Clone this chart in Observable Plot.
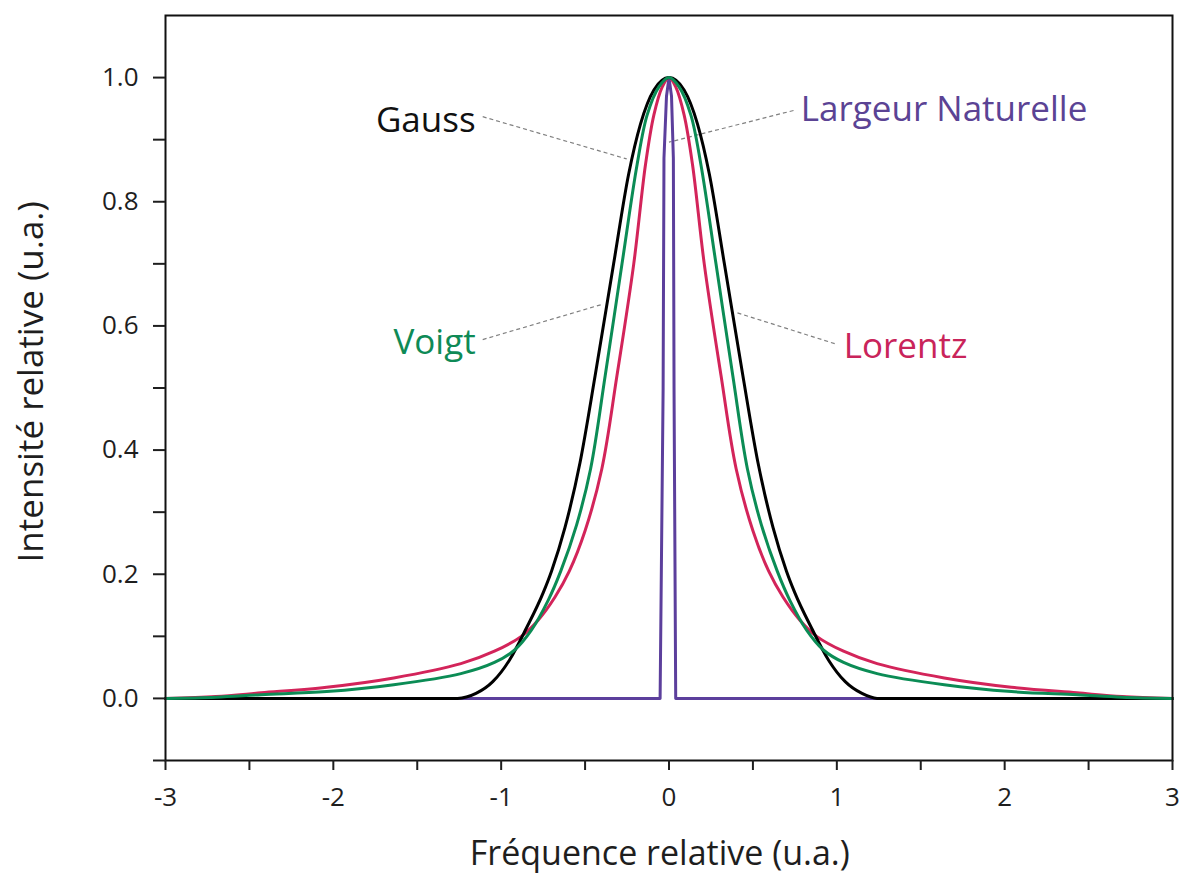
<!DOCTYPE html>
<html>
<head>
<meta charset="utf-8">
<script src="https://cdn.jsdelivr.net/npm/d3@7"></script>
<script src="https://cdn.jsdelivr.net/npm/@observablehq/plot@0.6"></script>
<style>
  html, body { margin: 0; padding: 0; background: #ffffff; }
  #chart { width: 1184px; height: 878px; }
</style>
</head>
<body>
<div id="chart"></div>
<script>
// ---- Data ----
const gaussX = [-3.0, -1.5, -1.26, -1.15, -1.05, -0.95, -0.85, -0.75, -0.70, -0.62, -0.53, -0.44, -0.33, -0.24, -0.17, -0.09, 0, 0.09, 0.17, 0.24, 0.33, 0.44, 0.53, 0.62, 0.70, 0.75, 0.85, 0.95, 1.05, 1.15, 1.24, 1.5, 3.0];
const gaussY = [0, 0, 0, 0.008, 0.027, 0.062, 0.113, 0.17, 0.205, 0.275, 0.38, 0.52, 0.70, 0.845, 0.925, 0.98, 1.0, 0.98, 0.925, 0.845, 0.70, 0.52, 0.38, 0.275, 0.205, 0.17, 0.113, 0.062, 0.027, 0.008, 0, 0, 0];

const voigtX = [-3.0, -2.7, -2.43, -2.04, -1.64, -1.24, -1.04, -0.92, -0.82, -0.72, -0.645, -0.55, -0.467, -0.38, -0.28, -0.19, -0.13, -0.06, 0, 0.06, 0.13, 0.19, 0.28, 0.38, 0.467, 0.55, 0.645, 0.72, 0.82, 0.92, 1.04, 1.24, 1.64, 2.04, 2.43, 2.7, 3.0];
const voigtY = [0, 0.002, 0.006, 0.011, 0.022, 0.04, 0.058, 0.078, 0.11, 0.158, 0.205, 0.28, 0.37, 0.52, 0.70, 0.86, 0.94, 0.985, 1.0, 0.985, 0.94, 0.86, 0.70, 0.52, 0.37, 0.28, 0.205, 0.158, 0.11, 0.078, 0.058, 0.04, 0.022, 0.011, 0.006, 0.002, 0];

const lorentzX = [-3.0, -2.7, -2.43, -2.04, -1.64, -1.24, -1.04, -0.88, -0.78, -0.68, -0.594, -0.50, -0.40, -0.31, -0.21, -0.14, -0.09, -0.04, 0, 0.04, 0.09, 0.14, 0.21, 0.31, 0.40, 0.50, 0.594, 0.68, 0.78, 0.88, 1.04, 1.24, 1.64, 2.04, 2.43, 2.7, 3.0];
const lorentzY = [0, 0.003, 0.009, 0.018, 0.033, 0.056, 0.076, 0.10, 0.126, 0.163, 0.205, 0.27, 0.37, 0.52, 0.70, 0.86, 0.94, 0.985, 1.0, 0.985, 0.94, 0.86, 0.70, 0.52, 0.37, 0.27, 0.205, 0.163, 0.126, 0.10, 0.076, 0.056, 0.033, 0.018, 0.009, 0.003, 0];

const naturalX = [-3.0, -0.053, -0.035, -0.03, -0.015, 0, 0.015, 0.026, 0.03, 0.04, 3.0];
const naturalY = [0, 0, 0.5, 0.87, 0.97, 1.0, 0.97, 0.87, 0.5, 0, 0];

const xTicks = [-3, -2.5, -2, -1.5, -1, -0.5, 0, 0.5, 1, 1.5, 2, 2.5, 3];
const xTickLabels = ["-3", "", "-2", "", "-1", "", "0", "", "1", "", "2", "", "3"];
const yTicks = [-0.1, 0, 0.1, 0.2, 0.3, 0.4, 0.5, 0.6, 0.7, 0.8, 0.9, 1.0];
const yTickLabels = ["", "0.0", "", "0.2", "", "0.4", "", "0.6", "", "0.8", "", "1.0"];

const labelText = ["Gauss", "Voigt", "Largeur Naturelle", "Lorentz"];
const labelX = [-1.152, -1.152, 0.785, 1.041];
const labelY = [0.913, 0.555, 0.930, 0.548];
const leaderX1 = [-1.11, -1.11, 0.742, 0.408];
const leaderY1 = [0.937, 0.578, 0.947, 0.621];
const leaderX2 = [-0.252, -0.407, 0.0, 1.004];
const leaderY2 = [0.869, 0.634, 0.896, 0.570];

const xTitle = "Fréquence relative (u.a.)";
const yTitle = "Intensité relative (u.a.)";

// ---- Build tables ----
const toRows = (xs, ys) => xs.map((x, i) => ({x, y: ys[i]}));
const natural = toRows(naturalX, naturalY);
const lorentz = toRows(lorentzX, lorentzY);
const gauss = toRows(gaussX, gaussY);
const voigt = toRows(voigtX, voigtY);

const colors = {
  "Gauss": "#000000",
  "Voigt": "#0b8c55",
  "Lorentz": "#d3245a",
  "Largeur Naturelle": "#5c3f9c"
};
const textColors = {
  "Gauss": "#111111",
  "Voigt": "#0e8a56",
  "Lorentz": "#c9245a",
  "Largeur Naturelle": "#5b4394"
};

const labels = labelText.map((t, i) => ({t, x: labelX[i], y: labelY[i]}));
const leftLabels = labels.filter(d => d.x < 0);
const rightLabels = labels.filter(d => d.x >= 0);
const leaders = labelText.map((t, i) => ({x1: leaderX1[i], y1: leaderY1[i], x2: leaderX2[i], y2: leaderY2[i]}));
const font = "'Open Sans', 'Noto Sans', sans-serif";

const chart = Plot.plot({
  width: 1184,
  height: 878,
  marginTop: 15,
  marginRight: 12,
  marginBottom: 118,
  marginLeft: 165,
  style: {fontFamily: font, background: "#ffffff", color: "#1e1e1e"},
  x: {domain: [-3, 3]},
  y: {domain: [-0.1, 1.1]},
  marks: [
    Plot.link(leaders, {x1: "x1", y1: "y1", x2: "x2", y2: "y2", stroke: "#808080", strokeWidth: 1.2, strokeDasharray: "4,3"}),
    Plot.line(natural, {x: "x", y: "y", stroke: colors["Largeur Naturelle"], strokeWidth: 3, curve: "linear"}),
    Plot.line(lorentz, {x: "x", y: "y", stroke: colors["Lorentz"], strokeWidth: 3, curve: "catmull-rom"}),
    Plot.line(gauss, {x: "x", y: "y", stroke: colors["Gauss"], strokeWidth: 3, curve: "monotone-x"}),
    Plot.line(voigt, {x: "x", y: "y", stroke: colors["Voigt"], strokeWidth: 3, curve: "catmull-rom"}),
    Plot.frame({stroke: "#111111", strokeWidth: 2}),
    Plot.axisX({
      ticks: xTicks,
      tickFormat: (d) => xTickLabels[xTicks.indexOf(d)],
      tickSize: 10, tickPadding: 17, strokeWidth: 2,
      fontSize: 26, label: null, anchor: "bottom"
    }),
    Plot.axisY({
      ticks: yTicks,
      tickFormat: (d) => yTickLabels[yTicks.indexOf(d)],
      tickSize: 12, tickPadding: 15, strokeWidth: 2,
      fontSize: 26, label: null, anchor: "left"
    }),
    Plot.text(leftLabels, {
      x: "x", y: "y", text: "t",
      fill: d => textColors[d.t],
      textAnchor: "end", lineAnchor: "bottom", fontSize: 35
    }),
    Plot.text(rightLabels, {
      x: "x", y: "y", text: "t",
      fill: d => textColors[d.t],
      textAnchor: "start", lineAnchor: "bottom", fontSize: 35
    }),
    Plot.text([xTitle], {
      x: () => -0.055, y: () => -0.2676, text: d => d,
      lineAnchor: "bottom", textAnchor: "middle", fontSize: 34, fill: "#1e1e1e"
    }),
    Plot.text([yTitle], {
      x: () => -3, y: () => 0.51, text: d => d, rotate: -90, dx: -123,
      lineAnchor: "bottom", textAnchor: "middle", fontSize: 35, fill: "#1e1e1e"
    })
  ]
});
document.getElementById("chart").appendChild(chart);
</script>
</body>
</html>
